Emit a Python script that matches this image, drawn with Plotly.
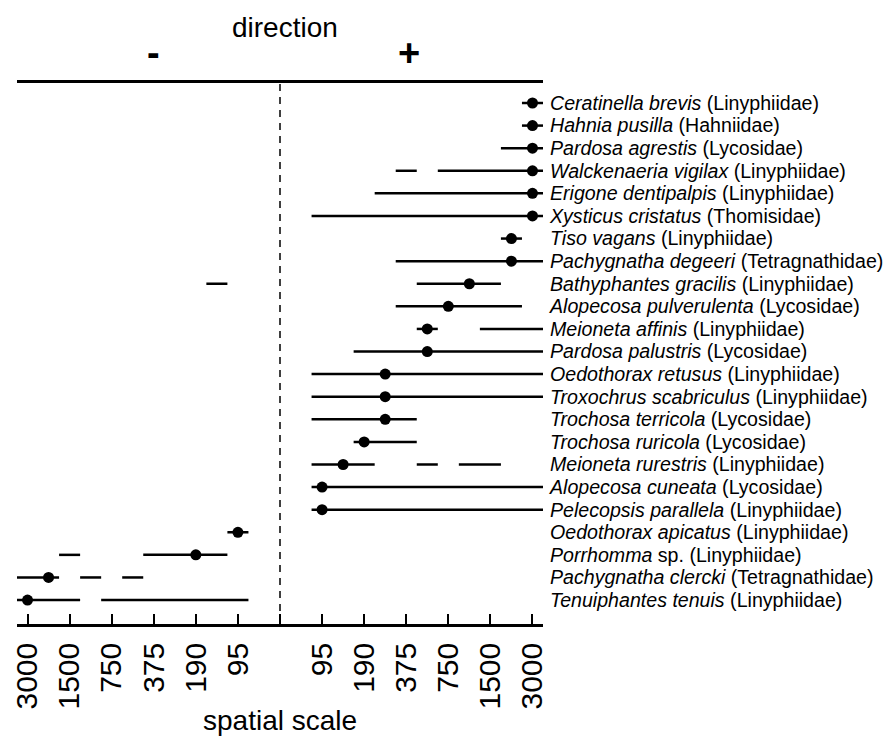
import plotly.graph_objects as go

# ---- data ----------------------------------------------------------------
# Species (top to bottom) and families
species = [
    "Ceratinella brevis", "Hahnia pusilla", "Pardosa agrestis", "Walckenaeria vigilax",
    "Erigone dentipalpis", "Xysticus cristatus", "Tiso vagans", "Pachygnatha degeeri",
    "Bathyphantes gracilis", "Alopecosa pulverulenta", "Meioneta affinis",
    "Pardosa palustris", "Oedothorax retusus", "Troxochrus scabriculus",
    "Trochosa terricola", "Trochosa ruricola", "Meioneta rurestris",
    "Alopecosa cuneata", "Pelecopsis parallela", "Oedothorax apicatus",
    "Porrhomma", "Pachygnatha clercki", "Tenuiphantes tenuis",
]
suffix = ["", "", "", "", "", "", "", "", "", "", "", "", "", "", "", "", "", "", "", "",
          " sp.", "", ""]
families = [
    "Linyphiidae", "Hahniidae", "Lycosidae", "Linyphiidae", "Linyphiidae", "Thomisidae",
    "Linyphiidae", "Tetragnathidae", "Linyphiidae", "Lycosidae", "Linyphiidae",
    "Lycosidae", "Linyphiidae", "Linyphiidae", "Lycosidae", "Lycosidae", "Linyphiidae",
    "Lycosidae", "Linyphiidae", "Linyphiidae", "Linyphiidae", "Tetragnathidae",
    "Linyphiidae",
]

# Positions on the spatial-scale axis, in steps: 1 = 95 ... 6 = 3000 (+ direction),
# -1 = 95 ... -6 = 3000 (- direction)
dot_pos = [6, 6, 6, 6, 6, 6, 5.5, 5.5, 4.5, 4, 3.5, 3.5, 2.5, 2.5, 2.5, 2, 1.5, 1, 1,
           -1, -2, -5.5, -6]

# Range segments: species index, start, end
seg_species = [0, 1, 2, 3, 3, 4, 5, 6, 7, 8, 8, 9, 10, 10, 11, 12, 13, 14, 15,
               16, 16, 16, 17, 18, 19, 20, 20, 21, 21, 21, 22, 22]
seg_from = [5.75, 5.75, 5.25, 2.75, 3.75, 2.25, 0.75, 5.25, 2.75, 3.25, -1.75, 2.75,
            3.25, 4.75, 1.75, 0.75, 0.75, 0.75, 1.75, 0.75, 3.25, 4.25, 0.75, 0.75,
            -1.25, -5.25, -3.25, -6.25, -4.75, -3.75, -6.25, -4.25]
seg_to = [6.25, 6.25, 6.25, 3.25, 6.25, 6.25, 6.25, 5.75, 6.25, 5.25, -1.25, 5.75,
          3.75, 6.25, 6.25, 6.25, 6.25, 3.25, 3.25, 2.25, 3.75, 5.25, 6.25, 6.25,
          -0.75, -4.75, -1.25, -5.25, -4.25, -3.25, -4.75, -0.75]

tick_pos = [-6, -5, -4, -3, -2, -1, 0, 1, 2, 3, 4, 5, 6]
tick_text = ["3000", "1500", "750", "375", "190", "95", "",
             "95", "190", "375", "750", "1500", "3000"]

# ---- figure --------------------------------------------------------------
FONT = "Arial, Liberation Sans, sans-serif"

seg_x, seg_y = [], []
for s, a, b in zip(seg_species, seg_from, seg_to):
    seg_x += [a, b, None]
    seg_y += [s, s, None]

fig = go.Figure()
fig.add_trace(go.Scatter(x=seg_x, y=seg_y, mode="lines",
                         line=dict(color="black", width=2.5),
                         hoverinfo="skip", showlegend=False))
fig.add_trace(go.Scatter(x=dot_pos, y=list(range(len(species))), mode="markers",
                         marker=dict(color="black", size=11),
                         showlegend=False))

labels = [f"<i>{n}</i>{sx} ({f})" for n, sx, f in zip(species, suffix, families)]

fig.add_shape(type="line", xref="x", yref="paper", x0=0, x1=0, y0=0, y1=1,
              line=dict(color="black", width=1.5, dash="7px,6px"))

fig.add_annotation(text="direction", xref="x", yref="paper", x=0.12, y=1.1035,
                   xanchor="center", yanchor="middle", showarrow=False,
                   font=dict(family=FONT, size=28, color="black"))
fig.add_annotation(text="<b>-</b>", xref="x", yref="paper", x=-3.0, y=1.056,
                   xanchor="center", yanchor="middle", showarrow=False,
                   font=dict(family=FONT, size=38, color="black"))
fig.add_annotation(text="<b>+</b>", xref="x", yref="paper", x=3.07, y=1.056,
                   xanchor="center", yanchor="middle", showarrow=False,
                   font=dict(family=FONT, size=38, color="black"))
fig.add_annotation(text="spatial scale", xref="x", yref="paper", x=0, y=-0.1775,
                   xanchor="center", yanchor="middle", showarrow=False,
                   font=dict(family=FONT, size=28, color="black"))

fig.update_xaxes(range=[-6.25, 6.25], tickvals=tick_pos, ticktext=tick_text,
                 tickangle=-90, ticks="inside", ticklen=10, tickwidth=1.5,
                 tickcolor="black", showline=True, linecolor="black", linewidth=2.5,
                 mirror=True, showgrid=False, zeroline=False, automargin=False,
                 tickfont=dict(family=FONT, size=30, color="black"),
                 ticklabelstandoff=4)
fig.update_yaxes(range=[23.06, -0.885], tickvals=list(range(len(species))),
                 ticktext=labels, side="right", ticks="", showline=False,
                 showgrid=False, zeroline=False, ticklabelstandoff=6, automargin=False,
                 tickfont=dict(family=FONT, size=19.6, color="black"))

fig.update_layout(width=885, height=738, plot_bgcolor="white", paper_bgcolor="white",
                  margin=dict(l=17, r=342, t=83, b=114), font=dict(family=FONT))

fig.write_html("out.html", config={"displayModeBar": False},
               post_script="document.body.style.margin='0';"
                           "document.body.style.overflow='hidden';")
